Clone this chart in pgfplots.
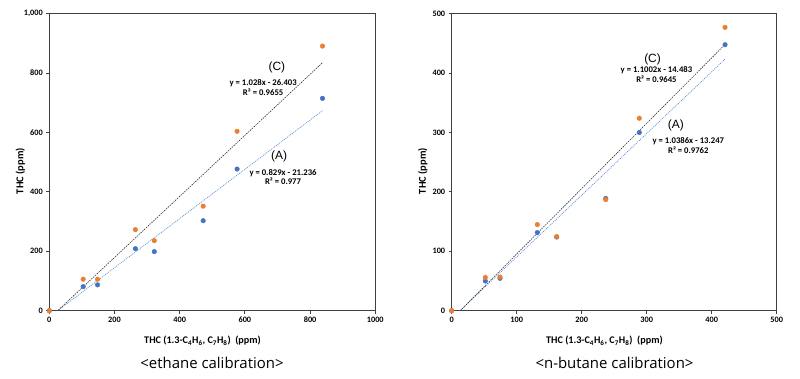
\documentclass[border=0pt]{standalone}
\usepackage{pgfplots}
\pgfplotsset{compat=1.18}
\usepackage{fontspec}
\setmainfont{Carlito}
\newfontfamily\capfont{Open Sans}
\newfontfamily\tagfont{Liberation Sans}

\definecolor{serA}{HTML}{4472C4}
\definecolor{serC}{HTML}{ED7D31}
\definecolor{trendA}{HTML}{5B8FD0}
\definecolor{frame}{HTML}{3F3F3F}

\tikzset{
  eq/.style={font=\bfseries\fontsize{8.7}{10}\selectfont, align=center, inner sep=0pt},
  tag/.style={font=\tagfont\fontsize{12}{13}\selectfont, inner sep=0pt},
}

\pgfplotsset{
  calib/.style={
    scale only axis,
    width=326bp, height=297bp,
    axis line style={frame, line width=1.2bp},
    tick style={frame, line width=0.9bp},
    major tick length=3bp,
    tick align=outside,
    xtick pos=bottom, ytick pos=left,
    ymin=0, xmin=0,
    /pgf/number format/assume math mode=true,
    ticklabel style={font=\bfseries\fontsize{8.3}{9}\selectfont, text=black},
    xticklabel style={/pgf/number format/1000 sep={}},
    xlabel style={font=\bfseries\fontsize{10.2}{12}\selectfont, at={(axis description cs:0.47,0)}, anchor=center, yshift=-30bp},
    ylabel style={font=\bfseries\fontsize{10.5}{12}\selectfont, at={(axis description cs:-0.089,0.47)}, anchor=center},
    xlabel={THC (1.3-C\textsubscript{4}H\textsubscript{6}, C\textsubscript{7}H\textsubscript{8})\ \ (ppm)},
    ylabel={THC (ppm)},
  },
  ptA/.style={only marks, mark=*, mark size=2.3bp, mark options={fill=serA, draw=serA}},
  ptC/.style={only marks, mark=*, mark size=2.3bp, mark options={fill=serC, draw=serC}},
  lnA/.style={no marks, trendA, line width=0.7bp, dash pattern=on 1bp off 1bp},
  lnC/.style={no marks, black!80, line width=0.6bp, dash pattern=on 1.5bp off 1bp},
}

\begin{document}
\begin{tikzpicture}
\useasboundingbox (0bp,0bp) rectangle (800bp,379bp);

% ethane calibration
\begin{axis}[calib, at={(49.3bp,68.3bp)}, anchor=south west,
  xmax=1000, ymax=1000,
  xtick={0,200,...,1000}, ytick={0,200,...,1000},
  yticklabel style={/pgf/number format/1000 sep={,}}]
\addplot[ptA] coordinates {(0,0) (104,81) (148,87) (264,209) (322,199) (472,303) (576,477) (838,715)};
\addplot[ptC] coordinates {(0,0) (104,106) (148,106) (264,273) (322,236) (472,352) (576,604) (838,891)};
% linear trend lines over the measured range
\addplot[lnA] coordinates {(0,-21.236) (838,673.466)};
\addplot[lnC] coordinates {(0,-26.403) (838,835.061)};
\node[tag] at (axis cs:698,820) {(C)};
\node[eq] at (axis cs:656,750) {y = 1.028x - 26.403\\ R² = 0.9655};
\node[tag] at (axis cs:705,521) {(A)};
\node[eq] at (axis cs:717,450) {y = 0.829x - 21.236\\ R² = 0.977};
\end{axis}

% n-butane calibration
\begin{axis}[calib, at={(451.7bp,68.3bp)}, anchor=south west, width=325bp,
  xmax=500, ymax=500,
  xtick={0,100,...,500}, ytick={0,100,...,500}]
\addplot[ptA] coordinates {(0,0) (51.7,50) (74.3,54.5) (131.7,131.5) (161.5,124) (237,189) (288.6,300) (420.5,447.8)};
\addplot[ptC] coordinates {(0,0) (51.7,56) (74.3,56.5) (131.7,145) (161.5,124.7) (237,187) (288.6,324) (420.5,477)};
\addplot[lnA] coordinates {(0,-13.247) (420.5,423.484)};
\addplot[lnC] coordinates {(0,-14.483) (420.5,448.151)};
\node[tag] at (axis cs:309,422.5) {(C)};
\node[eq] at (axis cs:315,397) {y = 1.1002x - 14.483\\ R² = 0.9645};
\node[tag] at (axis cs:345,312) {(A)};
\node[eq] at (axis cs:364,278) {y = 1.0386x - 13.247\\ R² = 0.9762};
\end{axis}

\node[font=\capfont\fontsize{15}{16}\selectfont] at (212bp,16bp) {<ethane calibration>};
\node[font=\capfont\fontsize{15}{16}\selectfont] at (614.5bp,16bp) {<n-butane calibration>};
\end{tikzpicture}
\end{document}
